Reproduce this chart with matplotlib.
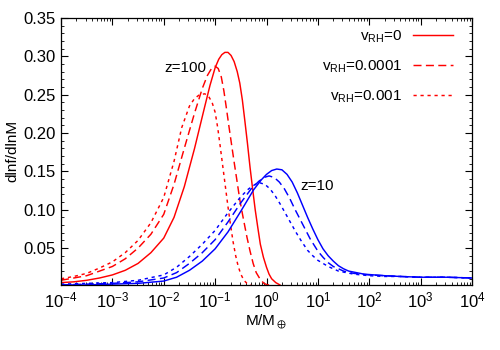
import matplotlib
matplotlib.use("Agg")
import matplotlib.pyplot as plt
from matplotlib.ticker import LogLocator, MultipleLocator, FormatStrFormatter, NullFormatter
import numpy as np

plt.rcParams["font.family"] = ["Liberation Sans", "DejaVu Sans"]
plt.rcParams["mathtext.default"] = "regular"

# z=100 (red), log10(M/Mearth) vs dlnf/dlnM
r0_logm = [-4.0, -3.75, -3.5, -3.25, -3.0, -2.75, -2.5, -2.25, -2.0, -1.8, -1.6, -1.4, -1.2,
           -1.1, -1.0, -0.93, -0.87, -0.81, -0.75, -0.69, -0.63, -0.57, -0.52, -0.47, -0.42,
           -0.37, -0.32, -0.27, -0.22, -0.17, -0.12, -0.06, 0.0, 0.05, 0.1, 0.18, 0.26]
r0_val = [0.005, 0.006, 0.008, 0.011, 0.015, 0.021, 0.030, 0.044, 0.063, 0.090, 0.130, 0.180, 0.235,
          0.262, 0.285, 0.296, 0.302, 0.305, 0.305, 0.301, 0.293, 0.280, 0.265, 0.243, 0.215,
          0.186, 0.155, 0.127, 0.100, 0.077, 0.055, 0.038, 0.025, 0.016, 0.010, 0.005, 0.002]
r1_logm = [-4.0, -3.75, -3.5, -3.25, -3.0, -2.75, -2.5, -2.25, -2.0, -1.8, -1.6, -1.4, -1.25,
           -1.15, -1.07, -1.0, -0.94, -0.88, -0.83, -0.78, -0.73, -0.68, -0.63, -0.58, -0.52,
           -0.45, -0.38, -0.32, -0.26, -0.2, -0.12, -0.05, 0.02, 0.1]
r1_val = [0.008, 0.011, 0.014, 0.020, 0.026, 0.036, 0.050, 0.068, 0.094, 0.133, 0.180, 0.226, 0.258,
          0.275, 0.284, 0.287, 0.284, 0.273, 0.255, 0.232, 0.208, 0.185, 0.162, 0.140, 0.113,
          0.088, 0.064, 0.046, 0.030, 0.018, 0.009, 0.004, 0.002, 0.002]
r2_logm = [-4.0, -3.75, -3.5, -3.25, -3.0, -2.75, -2.5, -2.25, -2.0, -1.8, -1.65, -1.5, -1.4,
           -1.3, -1.2, -1.13, -1.06, -1.0, -0.95, -0.9, -0.85, -0.8, -0.75, -0.7, -0.65, -0.6,
           -0.55, -0.5, -0.44, -0.38, -0.3]
r2_val = [0.010, 0.013, 0.017, 0.024, 0.032, 0.044, 0.060, 0.083, 0.116, 0.163, 0.207, 0.235, 0.245,
          0.250, 0.251, 0.248, 0.240, 0.227, 0.207, 0.182, 0.156, 0.130, 0.104, 0.080, 0.058, 0.040,
          0.026, 0.016, 0.008, 0.004, 0.002]

# z=10 (blue)
b0_logm = [-4.0, -3.5, -3.0, -2.5, -2.0, -1.75, -1.5, -1.25, -1.0, -0.75, -0.5, -0.25, -0.1, 0.0,
           0.1, 0.2, 0.3, 0.4, 0.5, 0.6, 0.7, 0.8, 0.9, 1.0, 1.1, 1.2, 1.3, 1.4, 1.5, 1.6, 1.75,
           1.9, 2.1, 2.3, 2.6, 3.0, 3.5, 4.0]
b0_val = [0.002, 0.002, 0.003, 0.004, 0.007, 0.012, 0.021, 0.033, 0.049, 0.071, 0.098, 0.126, 0.139, 0.146,
          0.151, 0.153, 0.152, 0.146, 0.136, 0.122, 0.106, 0.090, 0.075, 0.061, 0.049, 0.040, 0.033, 0.027, 0.023, 0.020, 0.018,
          0.016, 0.015, 0.014, 0.013, 0.012, 0.012, 0.011]
b1_logm = [-4.0, -3.5, -3.0, -2.5, -2.0, -1.75, -1.5, -1.25, -1.0, -0.75, -0.5, -0.3, -0.15, -0.05,
           0.05, 0.15, 0.25, 0.35, 0.45, 0.55, 0.65, 0.75, 0.85, 1.0, 1.1, 1.2, 1.3, 1.4, 1.5, 1.7,
           2.0, 2.3, 2.6, 3.0, 3.5, 4.0]
b1_val = [0.002, 0.003, 0.004, 0.006, 0.011, 0.018, 0.030, 0.044, 0.061, 0.084, 0.109, 0.127, 0.137, 0.142,
          0.144, 0.142, 0.136, 0.127, 0.115, 0.101, 0.088, 0.075, 0.062, 0.046, 0.038, 0.031, 0.026, 0.023, 0.020, 0.017,
          0.015, 0.014, 0.013, 0.012, 0.012, 0.011]
b2_logm = [-4.0, -3.5, -3.0, -2.5, -2.0, -1.75, -1.5, -1.25, -1.0, -0.75, -0.5, -0.35, -0.22, -0.13,
           -0.03, 0.07, 0.17, 0.27, 0.37, 0.47, 0.57, 0.67, 0.8, 0.9, 1.0, 1.1, 1.2, 1.3, 1.4, 1.55, 1.7,
           2.0, 2.3, 2.6, 3.0, 3.5, 4.0]
b2_val = [0.003, 0.004, 0.005, 0.008, 0.015, 0.025, 0.039, 0.055, 0.073, 0.096, 0.117, 0.127, 0.133, 0.135,
          0.133, 0.127, 0.118, 0.107, 0.095, 0.083, 0.071, 0.060, 0.047, 0.040, 0.034, 0.030, 0.026, 0.023, 0.020, 0.018, 0.016,
          0.014, 0.013, 0.013, 0.012, 0.012, 0.011]

labels = ["v$_{RH}$=0", "v$_{RH}$=0.0001", "v$_{RH}$=0.001"]
dash_styles = [None, (5.5, 3.0), (2.2, 2.6)]

fig = plt.figure(figsize=(5, 3.5), dpi=100)
ax = fig.add_axes([0.122, 0.186, 0.822, 0.763])

red = [(r0_logm, r0_val), (r1_logm, r1_val), (r2_logm, r2_val)]
blue = [(b0_logm, b0_val), (b1_logm, b1_val), (b2_logm, b2_val)]
for (lm, v), lab, ds in zip(red, labels, dash_styles):
    ln, = ax.plot(10 ** np.array(lm), v, color="#ff0000", lw=1.05, label=lab)
    if ds:
        ln.set_dashes(ds)
for (lm, v), ds in zip(blue, dash_styles):
    ln, = ax.plot(10 ** np.array(lm), v, color="#0000ff", lw=1.05)
    if ds:
        ln.set_dashes(ds)

ax.set_xscale("log")
ax.set_xlim(1e-4, 1e4)
ax.set_ylim(0.002, 0.35)
ax.xaxis.set_major_locator(LogLocator(base=10, numticks=20))
ax.xaxis.set_minor_locator(LogLocator(base=10, subs=np.arange(2, 10), numticks=20))
ax.xaxis.set_minor_formatter(NullFormatter())
ax.yaxis.set_major_locator(MultipleLocator(0.05))
ax.yaxis.set_minor_locator(MultipleLocator(0.01))
ax.yaxis.set_major_formatter(FormatStrFormatter("%.2f"))
ax.tick_params(which="both", direction="in", top=True, right=True, labelsize=12)
ax.tick_params(which="major", length=5, width=0.8)
ax.tick_params(which="minor", length=2.5, width=0.6)
ax.tick_params(axis="x", pad=4)
ax.tick_params(axis="y", pad=4)
for s in ax.spines.values():
    s.set_linewidth(0.9)

ax.set_xlabel("M/M$_\\oplus$", fontsize=11, labelpad=2)
ax.set_ylabel("dlnf/dlnM", fontsize=11, labelpad=3)

ax.text(0.026, 0.285, "z=100", fontsize=11, ha="center", va="center")
ax.text(9.6, 0.131, "z=10", fontsize=11, ha="center", va="center")

ax.legend(loc="upper right", bbox_to_anchor=(0.968, 0.983), borderaxespad=0,
          frameon=False, markerfirst=False, handlelength=2.6,
          fontsize=11, labelspacing=0.9, handletextpad=0.72)

fig.savefig("out.png", dpi=100)
